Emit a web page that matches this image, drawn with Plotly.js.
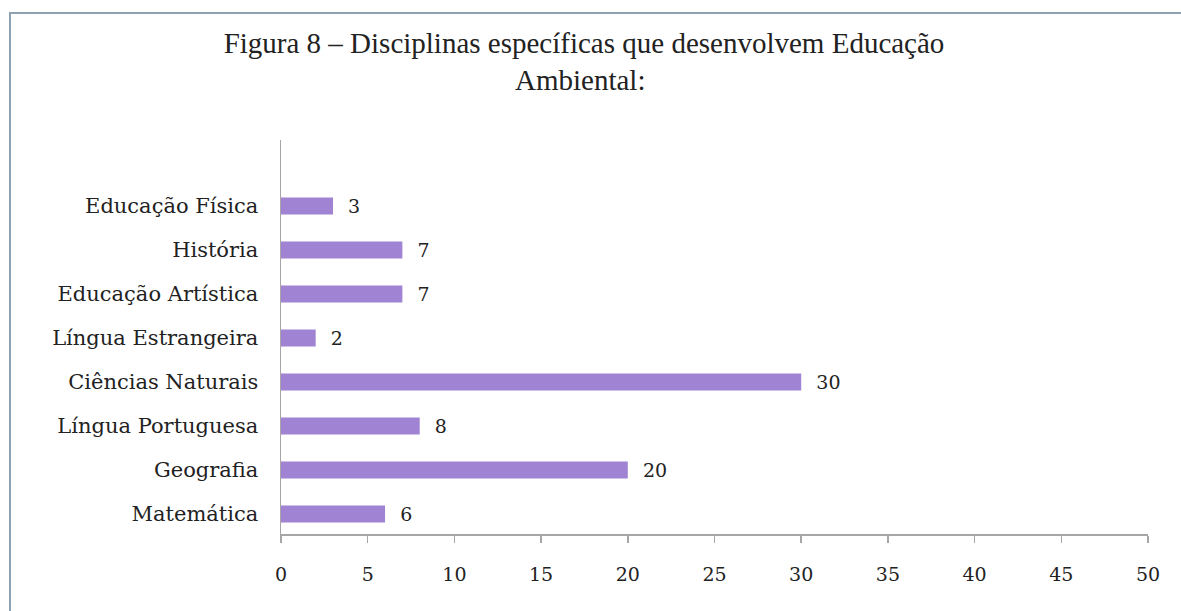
<!DOCTYPE html>
<html>
<head>
<meta charset="utf-8">
<script src="https://cdn.plot.ly/plotly-3.0.1.min.js"></script>
<style>
  html, body { margin: 0; padding: 0; background: #ffffff; overflow: hidden; }
  #chart { position: absolute; left: 0; top: 0; width: 1181px; height: 611px; }
  #frame { position: absolute; left: 9px; top: 12px; width: 1250px; height: 700px;
           border: 2px solid #8ea2b4; pointer-events: none; box-sizing: border-box; }
</style>
</head>
<body>
<div id="chart"></div>
<div id="frame"></div>
<script>
const categories = ["Matemática", "Geografia", "Língua Portuguesa", "Ciências Naturais",
                    "Língua Estrangeira", "Educação Artística", "História", "Educação Física"];
const values = [6, 20, 8, 30, 2, 7, 7, 3];
const xTicks = [0, 5, 10, 15, 20, 25, 30, 35, 40, 45, 50];
const titleLines = ["Figura 8 – Disciplinas específicas que desenvolvem Educação", "Ambiental:"];

const serif = "DejaVu Serif, Liberation Serif, serif";
const timesLike = "Liberation Serif, serif";

const trace = {
  type: "bar",
  orientation: "h",
  y: categories,
  x: values,
  width: 0.39,
  marker: { color: "#a083d3", line: { width: 0 } },
  text: values.map(v => "\u00a0\u00a0" + v),
  textposition: "outside",
  constraintext: "none",
  cliponaxis: false,
  textfont: { family: serif, size: 19, color: "#222222" },
  hoverinfo: "x+y"
};

const layout = {
  width: 1181,
  height: 611,
  margin: { l: 281, r: 33, t: 140, b: 77 },
  paper_bgcolor: "#ffffff",
  plot_bgcolor: "#ffffff",
  showlegend: false,
  title: {
    text: titleLines[0],
    font: { family: timesLike, size: 29, color: "#222222" },
    x: 584 / 1181, xanchor: "center",
    y: 1 - 43 / 611, yanchor: "middle"
  },
  annotations: [{
    text: titleLines[1],
    xref: "paper", yref: "paper",
    x: (580 - 281) / (1181 - 281 - 33), xanchor: "center",
    y: (534 - 80) / (534 - 140), yanchor: "middle",
    showarrow: false,
    font: { family: timesLike, size: 29, color: "#222222" }
  }],
  xaxis: {
    range: [0, 50],
    tickvals: xTicks,
    ticktext: xTicks.map(String),
    showgrid: false,
    zeroline: false,
    showline: true,
    linecolor: "#a6a6a6",
    linewidth: 1.5,
    ticks: "outside",
    ticklen: 7,
    tickcolor: "#a6a6a6",
    tickwidth: 1.5,
    tickfont: { family: serif, size: 19, color: "#222222" },
    ticklabelstandoff: 16,
    fixedrange: true
  },
  yaxis: {
    type: "category",
    range: [-0.455, 8.5],
    showgrid: false,
    zeroline: false,
    showline: true,
    linecolor: "#a6a6a6",
    linewidth: 1.5,
    ticks: "",
    tickfont: { family: serif, size: 21, color: "#222222" },
    ticklabelstandoff: 17,
    fixedrange: true
  }
};

Plotly.newPlot("chart", [trace], layout, { displayModeBar: false, staticPlot: true });
</script>
</body>
</html>
